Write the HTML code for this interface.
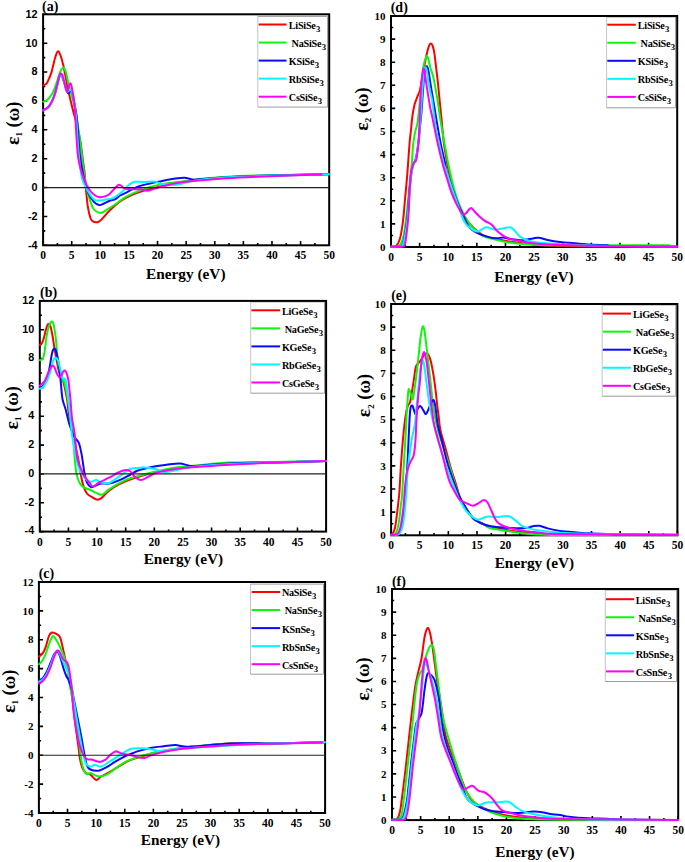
<!DOCTYPE html><html><head><meta charset="utf-8"><title>Dielectric function</title>
<style>html,body{margin:0;padding:0;background:#fff;width:685px;height:862px;overflow:hidden}svg{display:block}text{font-family:'Liberation Serif', serif;font-weight:bold;fill:#000}.s{font-family:'Liberation Sans', sans-serif}</style></head><body>
<svg width="685" height="862" viewBox="0 0 685 862">
<rect width="685" height="862" fill="#fff"/>
<g>
<rect x="257.8" y="16.4" width="69.8" height="90.7" fill="#fff"/>
<path d="M257.8 16.4V107.1" stroke="#c4c4c4" stroke-width="1" fill="none"/>
<path d="M257.8 16.4H327.6V107.1H257.8" stroke="#9c9c9c" stroke-width="1" fill="none"/>
<path d="M43.1 245.3V241.1M57.41 245.3V243.1M71.71 245.3V241.1M86.02 245.3V243.1M100.32 245.3V241.1M114.62 245.3V243.1M128.93 245.3V241.1M143.23 245.3V243.1M157.54 245.3V241.1M171.84 245.3V243.1M186.15 245.3V241.1M200.45 245.3V243.1M214.76 245.3V241.1M229.06 245.3V243.1M243.37 245.3V241.1M257.68 245.3V243.1M271.98 245.3V241.1M286.28 245.3V243.1M300.59 245.3V241.1M314.89 245.3V243.1M329.2 245.3V241.1M43.1 245.3H47.3M43.1 230.86H45.3M43.1 216.43H47.3M43.1 201.99H45.3M43.1 187.55H47.3M43.1 173.11H45.3M43.1 158.68H47.3M43.1 144.24H45.3M43.1 129.8H47.3M43.1 115.36H45.3M43.1 100.93H47.3M43.1 86.49H45.3M43.1 72.05H47.3M43.1 57.61H45.3M43.1 43.18H47.3M43.1 28.74H45.3M43.1 14.3H47.3" stroke="#000" stroke-width="1.6" fill="none"/>
<rect x="43.1" y="14.3" width="286.1" height="231" fill="none" stroke="#000" stroke-width="2"/>
<path d="M43.3 85.4C43.87 85.05 45.75 84.42 46.7 83.3C47.65 82.18 48.23 80.43 49 78.7C49.77 76.97 50.57 75.27 51.3 72.9C52.03 70.53 52.75 67.07 53.4 64.5C54.05 61.93 54.47 59.68 55.2 57.5C55.93 55.32 56.93 51.78 57.8 51.4C58.67 51.02 59.47 52.82 60.4 55.2C61.33 57.58 62.13 60.07 63.4 65.7C64.67 71.33 66.4 81.53 68 89C69.6 96.47 71.75 105.42 73 110.5C74.25 115.58 74.73 116.53 75.5 119.5C76.27 122.47 76.77 124.52 77.6 128.3C78.43 132.08 79.63 136.98 80.5 142.2C81.37 147.42 82.13 154.63 82.8 159.6C83.47 164.57 84.03 167.77 84.5 172C84.97 176.23 85.27 181.17 85.6 185C85.93 188.83 86.1 191.23 86.5 195C86.9 198.77 87.35 203.77 88 207.6C88.65 211.43 89.65 215.77 90.4 218C91.15 220.23 91.65 220.28 92.5 221C93.35 221.72 94.57 222.13 95.5 222.3C96.43 222.47 97.18 222.38 98.1 222C99.02 221.62 100.12 220.77 101 220C101.88 219.23 101.83 219.1 103.4 217.4C104.97 215.7 107.48 212.53 110.4 209.8C113.32 207.07 117.2 203.53 120.9 201C124.6 198.47 128.72 196.35 132.6 194.6C136.48 192.85 139.63 191.87 144.2 190.5C148.77 189.13 154.03 187.73 160 186.4C165.97 185.07 173.33 183.65 180 182.5C186.67 181.35 190 180.42 200 179.5C210 178.58 226.67 177.67 240 177C253.33 176.33 265.17 175.95 280 175.5C294.83 175.05 320.83 174.5 329 174.3" fill="none" stroke="#ff0000" stroke-width="2" stroke-linejoin="round" stroke-linecap="round"/>
<path d="M43.3 101.6C43.87 101.37 45.65 100.92 46.7 100.2C47.75 99.48 48.63 98.47 49.6 97.3C50.57 96.13 51.53 95.05 52.5 93.2C53.47 91.35 54.53 88.52 55.4 86.2C56.27 83.88 56.93 81.62 57.7 79.3C58.47 76.98 59.1 74.28 60 72.3C60.9 70.32 62.15 67.53 63.1 67.4C64.05 67.27 64.78 68.67 65.7 71.5C66.62 74.33 67.63 80.5 68.6 84.4C69.57 88.3 70.43 91.02 71.5 94.9C72.57 98.78 73.98 102.93 75 107.7C76.02 112.47 76.77 118.12 77.6 123.5C78.43 128.88 79.23 134.25 80 140C80.77 145.75 81.5 152.33 82.2 158C82.9 163.67 83.57 169.33 84.2 174C84.83 178.67 85.28 182.42 86 186C86.72 189.58 87.38 191.9 88.5 195.5C89.62 199.1 91.37 204.93 92.7 207.6C94.03 210.27 95.02 210.63 96.5 211.5C97.98 212.37 99.68 213.22 101.6 212.8C103.52 212.38 105.77 210.38 108 209C110.23 207.62 111.88 206.6 115 204.5C118.12 202.4 122.8 198.63 126.7 196.4C130.6 194.17 134.52 192.67 138.4 191.1C142.28 189.53 146.4 188.08 150 187C153.6 185.92 156.8 185.27 160 184.6C163.2 183.93 165.23 183.57 169.2 183C173.17 182.43 178.93 181.87 183.8 181.2C188.67 180.53 189.03 179.87 198.4 179C207.77 178.13 226.4 176.67 240 176C253.6 175.33 266.07 175.25 280 175C293.93 174.75 316.33 174.58 323.6 174.5" fill="none" stroke="#0cf70c" stroke-width="2" stroke-linejoin="round" stroke-linecap="round"/>
<path d="M43.3 110.2C43.87 109.92 45.65 109.27 46.7 108.5C47.75 107.73 48.63 106.95 49.6 105.6C50.57 104.25 51.53 102.62 52.5 100.4C53.47 98.18 54.53 95.2 55.4 92.3C56.27 89.4 57.02 85.68 57.7 83C58.38 80.32 58.98 77.68 59.5 76.2C60.02 74.72 60.15 73.47 60.8 74.1C61.45 74.73 62.53 77.68 63.4 80C64.27 82.32 65.23 85.82 66 88C66.77 90.18 67.23 92.63 68 93.1C68.77 93.57 69.85 90.82 70.6 90.8C71.35 90.78 71.95 91.35 72.5 93C73.05 94.65 73.32 97.53 73.9 100.7C74.48 103.87 75.45 108.45 76 112C76.55 115.55 76.78 117.67 77.2 122C77.62 126.33 78.05 132.5 78.5 138C78.95 143.5 79.08 148.67 79.9 155C80.72 161.33 82.05 169.77 83.4 176C84.75 182.23 86.25 188.1 88 192.4C89.75 196.7 92.02 199.68 93.9 201.8C95.78 203.92 97.62 204.82 99.3 205.1C100.98 205.38 102.35 204.18 104 203.5C105.65 202.82 107.37 201.7 109.2 201C111.03 200.3 113.2 200.22 115 199.3C116.8 198.38 118.05 196.67 120 195.5C121.95 194.33 123.63 193.82 126.7 192.3C129.77 190.78 134.52 187.87 138.4 186.4C142.28 184.93 146.4 184.33 150 183.5C153.6 182.67 156.8 182.08 160 181.4C163.2 180.72 165.23 180 169.2 179.4C173.17 178.8 180.4 177.92 183.8 177.8C187.2 177.68 187.9 178.38 189.6 178.7C191.3 179.02 190.1 179.78 194 179.7C197.9 179.62 205.33 178.73 213 178.2C220.67 177.67 228.83 176.98 240 176.5C251.17 176.02 265.17 175.67 280 175.3C294.83 174.93 320.83 174.47 329 174.3" fill="none" stroke="#0a0aff" stroke-width="2" stroke-linejoin="round" stroke-linecap="round"/>
<path d="M43.3 110.5C43.87 110.22 45.65 109.57 46.7 108.8C47.75 108.03 48.63 107.25 49.6 105.9C50.57 104.55 51.53 102.92 52.5 100.7C53.47 98.48 54.53 95.5 55.4 92.6C56.27 89.7 57.02 85.98 57.7 83.3C58.38 80.62 58.98 77.97 59.5 76.5C60.02 75.03 60.15 73.83 60.8 74.5C61.45 75.17 62.62 78.33 63.4 80.5C64.18 82.67 64.87 85.62 65.5 87.5C66.13 89.38 66.48 91.38 67.2 91.8C67.92 92.22 69 89.97 69.8 90C70.6 90.03 71.3 90.17 72 92C72.7 93.83 73.33 97 74 101C74.67 105 75.33 108.67 76 116C76.67 123.33 77.35 136.67 78 145C78.65 153.33 79.15 160.17 79.9 166C80.65 171.83 81.15 175.8 82.5 180C83.85 184.2 86.1 187.97 88 191.2C89.9 194.43 92.15 197.83 93.9 199.4C95.65 200.97 96.92 200.52 98.5 200.6C100.08 200.68 101.03 200.32 103.4 199.9C105.77 199.48 109.78 199.28 112.7 198.1C115.62 196.92 118.18 195.03 120.9 192.8C123.62 190.57 126.67 186.53 129 184.7C131.33 182.87 132.37 182.25 134.9 181.8C137.43 181.35 140.92 182.03 144.2 182C147.48 181.97 151.65 181.25 154.6 181.6C157.55 181.95 158.25 183.57 161.9 184.1C165.55 184.63 171.65 185.28 176.5 184.8C181.35 184.32 184.92 182.25 191 181.2C197.08 180.15 204.83 179.23 213 178.5C221.17 177.77 228.83 177.3 240 176.8C251.17 176.3 265.17 175.92 280 175.5C294.83 175.08 320.83 174.5 329 174.3" fill="none" stroke="#00f8ff" stroke-width="2" stroke-linejoin="round" stroke-linecap="round"/>
<path d="M43.3 110C43.87 109.72 45.65 109.07 46.7 108.3C47.75 107.53 48.63 106.75 49.6 105.4C50.57 104.05 51.53 102.42 52.5 100.2C53.47 97.98 54.53 95 55.4 92.1C56.27 89.2 57.02 85.52 57.7 82.8C58.38 80.08 58.97 77.35 59.5 75.8C60.03 74.25 60.42 73.6 60.9 73.5C61.38 73.4 61.87 73.85 62.4 75.2C62.93 76.55 63.52 79.27 64.1 81.6C64.68 83.93 65.35 87.57 65.9 89.2C66.45 90.83 66.7 92.37 67.4 91.4C68.1 90.43 69.32 83.8 70.1 83.4C70.88 83 71.37 85.33 72.1 89C72.83 92.67 73.93 100.23 74.5 105.4C75.07 110.57 75.1 113.67 75.5 120C75.9 126.33 76.37 136.58 76.9 143.4C77.43 150.22 77.72 155.45 78.7 160.9C79.68 166.35 81.43 172.02 82.8 176.1C84.17 180.18 85.45 182.68 86.9 185.4C88.35 188.12 89.55 190.47 91.5 192.4C93.45 194.33 95.85 196.53 98.6 197C101.35 197.47 105.45 196.48 108 195.2C110.55 193.92 112.05 191.05 113.9 189.3C115.75 187.55 117.35 184.88 119.1 184.7C120.85 184.52 122.15 187.43 124.4 188.2C126.65 188.97 129.88 189.12 132.6 189.3C135.32 189.48 138.22 189.07 140.7 189.3C143.18 189.53 145.17 190.82 147.5 190.7C149.83 190.58 151.08 189.58 154.7 188.6C158.32 187.62 164.35 185.92 169.2 184.8C174.05 183.68 172 183.12 183.8 181.9C195.6 180.68 223.97 178.52 240 177.5C256.03 176.48 266.45 176.3 280 175.8C293.55 175.3 314.42 174.72 321.3 174.5" fill="none" stroke="#ff00ff" stroke-width="2" stroke-linejoin="round" stroke-linecap="round"/>
<line x1="43.1" y1="187.55" x2="329.2" y2="187.55" stroke="#222" stroke-width="1.15"/>
<line x1="258.7" y1="24.5" x2="286.5" y2="24.5" stroke="#ff0000" stroke-width="2"/>
<text x="288.8" y="28.9" font-size="10.2" letter-spacing="-0.25">LiSiSe<tspan font-size="8.7" dx="0.5" dy="3">3</tspan></text>
<line x1="258.7" y1="42.55" x2="286.5" y2="42.55" stroke="#0cf70c" stroke-width="2"/>
<text x="291.6" y="46.95" font-size="10.2" letter-spacing="-0.25">NaSiSe<tspan font-size="8.7" dx="0.5" dy="3">3</tspan></text>
<line x1="258.7" y1="60.6" x2="286.5" y2="60.6" stroke="#0a0aff" stroke-width="2"/>
<text x="288.8" y="65" font-size="10.2" letter-spacing="-0.25">KSiSe<tspan font-size="8.7" dx="0.5" dy="3">3</tspan></text>
<line x1="258.7" y1="78.65" x2="286.5" y2="78.65" stroke="#00f8ff" stroke-width="2"/>
<text x="288.8" y="83.05" font-size="10.2" letter-spacing="-0.25">RbSiSe<tspan font-size="8.7" dx="0.5" dy="3">3</tspan></text>
<line x1="258.7" y1="96.7" x2="286.5" y2="96.7" stroke="#ff00ff" stroke-width="2"/>
<text x="288.8" y="101.1" font-size="10.2" letter-spacing="-0.25">CsSiSe<tspan font-size="8.7" dx="0.5" dy="3">3</tspan></text>
<text x="43.1" y="259.2" font-size="11.5" text-anchor="middle">0</text>
<text x="71.71" y="259.2" font-size="11.5" text-anchor="middle">5</text>
<text x="100.32" y="259.2" font-size="11.5" text-anchor="middle">10</text>
<text x="128.93" y="259.2" font-size="11.5" text-anchor="middle">15</text>
<text x="157.54" y="259.2" font-size="11.5" text-anchor="middle">20</text>
<text x="186.15" y="259.2" font-size="11.5" text-anchor="middle">25</text>
<text x="214.76" y="259.2" font-size="11.5" text-anchor="middle">30</text>
<text x="243.37" y="259.2" font-size="11.5" text-anchor="middle">35</text>
<text x="271.98" y="259.2" font-size="11.5" text-anchor="middle">40</text>
<text x="300.59" y="259.2" font-size="11.5" text-anchor="middle">45</text>
<text x="329.2" y="259.2" font-size="11.5" text-anchor="middle">50</text>
<text class="s" x="37.5" y="248.7" font-size="10.8" text-anchor="end">-4</text>
<text class="s" x="37.5" y="219.83" font-size="10.8" text-anchor="end">-2</text>
<text class="s" x="37.5" y="190.95" font-size="10.8" text-anchor="end">0</text>
<text class="s" x="37.5" y="162.08" font-size="10.8" text-anchor="end">2</text>
<text class="s" x="37.5" y="133.2" font-size="10.8" text-anchor="end">4</text>
<text class="s" x="37.5" y="104.33" font-size="10.8" text-anchor="end">6</text>
<text class="s" x="37.5" y="75.45" font-size="10.8" text-anchor="end">8</text>
<text class="s" x="37.5" y="46.58" font-size="10.8" text-anchor="end">10</text>
<text class="s" x="37.5" y="17.7" font-size="10.8" text-anchor="end">12</text>
<text x="185.8" y="279" font-size="15.3" text-anchor="middle">Energy (eV)</text>
<text transform="translate(19.2 144.9) rotate(-90)" font-size="18.5"><tspan font-size="19.5">&#949;</tspan><tspan font-size="9" dy="3.2">1</tspan><tspan dy="-3.2"> (&#969;)</tspan></text>
<text x="42" y="10.6" font-size="14">(a)</text>
</g>
<g>
<rect x="250.7" y="301.9" width="73.8" height="91.3" fill="#fff"/>
<path d="M250.7 301.9V393.2" stroke="#c4c4c4" stroke-width="1" fill="none"/>
<path d="M250.7 301.9H324.5V393.2H250.7" stroke="#9c9c9c" stroke-width="1" fill="none"/>
<path d="M39.8 531.6V527.4M54.11 531.6V529.4M68.43 531.6V527.4M82.75 531.6V529.4M97.06 531.6V527.4M111.38 531.6V529.4M125.69 531.6V527.4M140 531.6V529.4M154.32 531.6V527.4M168.63 531.6V529.4M182.95 531.6V527.4M197.26 531.6V529.4M211.58 531.6V527.4M225.89 531.6V529.4M240.21 531.6V527.4M254.52 531.6V529.4M268.84 531.6V527.4M283.15 531.6V529.4M297.47 531.6V527.4M311.79 531.6V529.4M326.1 531.6V527.4M39.8 531.6H44M39.8 517.18H42M39.8 502.76H44M39.8 488.34H42M39.8 473.93H44M39.8 459.51H42M39.8 445.09H44M39.8 430.67H42M39.8 416.25H44M39.8 401.83H42M39.8 387.41H44M39.8 372.99H42M39.8 358.57H44M39.8 344.16H42M39.8 329.74H44M39.8 315.32H42M39.8 300.9H44" stroke="#000" stroke-width="1.6" fill="none"/>
<rect x="39.8" y="300.9" width="286.3" height="230.7" fill="none" stroke="#000" stroke-width="2"/>
<path d="M40 345C40.37 344.62 41.53 343.95 42.2 342.7C42.87 341.45 43.38 339.68 44 337.5C44.62 335.32 45.27 331.75 45.9 329.6C46.53 327.45 47.28 325.5 47.8 324.6C48.32 323.7 48.6 323.97 49 324.2C49.4 324.43 49.87 325.32 50.2 326C50.53 326.68 50.55 326.3 51 328.3C51.45 330.3 52.35 334.83 52.9 338C53.45 341.17 53.77 344.07 54.3 347.3C54.83 350.53 55.33 353.4 56.1 357.4C56.87 361.4 57.97 367.58 58.9 371.3C59.83 375.02 60.9 377.73 61.7 379.7C62.5 381.67 63.02 380.9 63.7 383.1C64.38 385.3 65.22 390.08 65.8 392.9C66.38 395.72 66.78 397.15 67.2 400C67.62 402.85 67.88 406.83 68.3 410C68.72 413.17 69.13 416.27 69.7 419C70.27 421.73 70.78 422.07 71.7 426.4C72.62 430.73 74.03 439.17 75.2 445C76.37 450.83 77.73 456.33 78.7 461.4C79.67 466.47 80.22 471.32 81 475.4C81.78 479.48 82.42 482.88 83.4 485.9C84.38 488.92 85.35 491.55 86.9 493.5C88.45 495.45 90.95 496.57 92.7 497.6C94.45 498.63 95.85 499.7 97.4 499.7C98.95 499.7 100.07 499.12 102 497.6C103.93 496.08 106.27 492.75 109 490.6C111.73 488.45 114.88 486.55 118.4 484.7C121.92 482.85 125.73 481.12 130.1 479.5C134.47 477.88 139.75 476.35 144.6 475C149.45 473.65 150.8 472.82 159.2 471.4C167.6 469.98 183.2 467.83 195 466.5C206.8 465.17 217.25 464.07 230 463.4C242.75 462.73 255.52 462.9 271.5 462.5C287.48 462.1 316.83 461.25 325.9 461" fill="none" stroke="#ff0000" stroke-width="2" stroke-linejoin="round" stroke-linecap="round"/>
<path d="M40 360.2C40.48 359.9 42.15 359.77 42.9 358.4C43.65 357.03 43.85 355.87 44.5 352C45.15 348.13 46.03 339.55 46.8 335.2C47.57 330.85 48.32 328.18 49.1 325.9C49.88 323.62 50.8 321.88 51.5 321.5C52.2 321.12 52.77 322.08 53.3 323.6C53.83 325.12 54.23 327.73 54.7 330.6C55.17 333.47 55.72 337.23 56.1 340.8C56.48 344.37 56.63 348.3 57 352C57.37 355.7 57.83 359.67 58.3 363C58.77 366.33 59.23 369 59.8 372C60.37 375 61.05 379.6 61.7 381C62.35 382.4 62.88 378.5 63.7 380.4C64.52 382.3 65.63 387.47 66.6 392.4C67.57 397.33 68.47 403.17 69.5 410C70.53 416.83 71.95 425.62 72.8 433.4C73.65 441.18 74 450.08 74.6 456.7C75.2 463.32 75.62 468.82 76.4 473.1C77.18 477.38 78.13 480.07 79.3 482.4C80.47 484.73 81.55 485.83 83.4 487.1C85.25 488.37 88.27 489.03 90.4 490C92.53 490.97 94.27 492.12 96.2 492.9C98.13 493.68 99.87 495.28 102 494.7C104.13 494.12 106.27 491.25 109 489.4C111.73 487.55 114.88 485.45 118.4 483.6C121.92 481.75 125.73 479.85 130.1 478.3C134.47 476.75 139.75 475.57 144.6 474.3C149.45 473.03 154.33 471.8 159.2 470.7C164.07 469.6 167.72 468.57 173.8 467.7C179.88 466.83 186.33 466.35 195.7 465.5C205.07 464.65 217.37 463.18 230 462.6C242.63 462.02 255.52 462.27 271.5 462C287.48 461.73 316.83 461.17 325.9 461" fill="none" stroke="#0cf70c" stroke-width="2" stroke-linejoin="round" stroke-linecap="round"/>
<path d="M40 387.3C40.37 387.17 41.45 387.05 42.2 386.5C42.95 385.95 43.73 385.25 44.5 384C45.27 382.75 46.13 380.83 46.8 379C47.47 377.17 48 375.1 48.5 373C49 370.9 49.38 368.73 49.8 366.4C50.22 364.07 50.65 361.08 51 359C51.35 356.92 51.57 355.4 51.9 353.9C52.23 352.4 52.58 350.92 53 350C53.42 349.08 53.98 348.48 54.4 348.4C54.82 348.32 55.17 348.82 55.5 349.5C55.83 350.18 55.95 350.6 56.4 352.5C56.85 354.4 57.67 357.77 58.2 360.9C58.73 364.03 59.13 367.37 59.6 371.3C60.07 375.23 60.52 379.88 61 384.5C61.48 389.12 61.7 394.75 62.5 399C63.3 403.25 64.67 405.83 65.8 410C66.93 414.17 67.93 419.62 69.3 424C70.67 428.38 72.43 433.18 74 436.3C75.57 439.42 77.43 439.68 78.7 442.7C79.97 445.72 80.63 449.33 81.6 454.4C82.57 459.47 83.62 468.43 84.5 473.1C85.38 477.77 85.83 480.07 86.9 482.4C87.97 484.73 89.55 486.52 90.9 487.1C92.25 487.68 93.33 486.48 95 485.9C96.67 485.32 98.57 483.98 100.9 483.6C103.23 483.22 106.08 484.08 109 483.6C111.92 483.12 114.88 482.17 118.4 480.7C121.92 479.23 126.95 476.47 130.1 474.8C133.25 473.13 133.67 472 137.3 470.7C140.93 469.4 147.03 467.98 151.9 467C156.77 466.02 161.88 465.4 166.5 464.8C171.12 464.2 175.95 463.28 179.6 463.4C183.25 463.52 185.72 465.07 188.4 465.5C191.08 465.93 188.77 466.35 195.7 466C202.63 465.65 217.37 463.98 230 463.4C242.63 462.82 255.52 462.9 271.5 462.5C287.48 462.1 316.83 461.25 325.9 461" fill="none" stroke="#0a0aff" stroke-width="2" stroke-linejoin="round" stroke-linecap="round"/>
<path d="M40 388.7C40.48 388.47 41.83 388.45 42.9 387.3C43.97 386.15 45.25 384.12 46.4 381.8C47.55 379.48 48.95 375.87 49.8 373.4C50.65 370.93 51.03 368.73 51.5 367C51.97 365.27 52.18 364.33 52.6 363C53.02 361.67 53.53 359.88 54 359C54.47 358.12 54.93 357.78 55.4 357.7C55.87 357.62 56.33 357.97 56.8 358.5C57.27 359.03 57.62 359.12 58.2 360.9C58.78 362.68 59.6 366.42 60.3 369.2C61 371.98 61.78 375.97 62.4 377.6C63.02 379.23 63.47 378.6 64 379C64.53 379.4 64.97 377.38 65.6 380C66.23 382.62 67.03 388.7 67.8 394.7C68.57 400.7 69.5 409.28 70.2 416C70.9 422.72 70.97 427.83 72 435C73.03 442.17 75.08 453.05 76.4 459C77.72 464.95 78.55 467.58 79.9 470.7C81.25 473.82 82.75 475.85 84.5 477.7C86.25 479.55 88.45 481.4 90.4 481.8C92.35 482.2 94.45 480 96.2 480.1C97.95 480.2 98.77 481.92 100.9 482.4C103.03 482.88 105.7 484.17 109 483C112.3 481.83 117.18 477.73 120.7 475.4C124.22 473.07 126.88 470.27 130.1 469C133.32 467.73 137.58 468.07 140 467.8C142.42 467.53 141.88 467.17 144.6 467.4C147.32 467.63 153.13 468.42 156.3 469.2C159.47 469.98 160.68 471.85 163.6 472.1C166.52 472.35 169.18 471.55 173.8 470.7C178.42 469.85 181.93 468.1 191.3 467C200.67 465.9 216.63 464.85 230 464.1C243.37 463.35 255.52 463.02 271.5 462.5C287.48 461.98 316.83 461.25 325.9 461" fill="none" stroke="#00f8ff" stroke-width="2" stroke-linejoin="round" stroke-linecap="round"/>
<path d="M40 385.6C40.37 385.3 41.37 384.67 42.2 383.8C43.03 382.93 44.08 382.02 45 380.4C45.92 378.78 46.83 376.08 47.7 374.1C48.57 372.12 49.57 369.82 50.2 368.5C50.83 367.18 51.1 366.67 51.5 366.2C51.9 365.73 52.23 365.68 52.6 365.7C52.97 365.72 53.35 365.95 53.7 366.3C54.05 366.65 54.18 366.62 54.7 367.8C55.22 368.98 56.05 371.83 56.8 373.4C57.55 374.97 58.58 376.68 59.2 377.2C59.82 377.72 60.08 376.9 60.5 376.5C60.92 376.1 61.23 375.63 61.7 374.8C62.17 373.97 62.78 372.2 63.3 371.5C63.82 370.8 64.35 370.52 64.8 370.6C65.25 370.68 65.6 371.27 66 372C66.4 372.73 66.78 373.5 67.2 375C67.62 376.5 68.12 378.48 68.5 381C68.88 383.52 69.13 386.6 69.5 390.1C69.87 393.6 70.28 397.35 70.7 402C71.12 406.65 71.35 412.77 72 418C72.65 423.23 73.68 426.57 74.6 433.4C75.52 440.23 76.03 452.2 77.5 459C78.97 465.8 81.45 470.3 83.4 474.2C85.35 478.1 87.65 480.35 89.2 482.4C90.75 484.45 91.15 486.4 92.7 486.5C94.25 486.6 95.78 484.47 98.5 483C101.22 481.53 105.68 479.45 109 477.7C112.32 475.95 115.67 473.77 118.4 472.5C121.13 471.23 123.45 470.3 125.4 470.1C127.35 469.9 128.55 470.22 130.1 471.3C131.65 472.38 132.88 475.13 134.7 476.6C136.52 478.07 138.87 480 141 480.1C143.13 480.2 144.95 478.42 147.5 477.2C150.05 475.98 151.92 474.13 156.3 472.8C160.68 471.47 167.23 470.17 173.8 469.2C180.37 468.23 186.33 467.73 195.7 467C205.07 466.27 217.37 465.5 230 464.8C242.63 464.1 255.52 463.43 271.5 462.8C287.48 462.17 316.83 461.3 325.9 461" fill="none" stroke="#ff00ff" stroke-width="2" stroke-linejoin="round" stroke-linecap="round"/>
<line x1="39.8" y1="473.93" x2="326.1" y2="473.93" stroke="#222" stroke-width="1.15"/>
<line x1="251.4" y1="310.3" x2="280.1" y2="310.3" stroke="#ff0000" stroke-width="2"/>
<text x="281.9" y="314.7" font-size="10.2" letter-spacing="-0.25">LiGeSe<tspan font-size="8.7" dx="0.5" dy="3">3</tspan></text>
<line x1="251.4" y1="328.35" x2="280.1" y2="328.35" stroke="#0cf70c" stroke-width="2"/>
<text x="284.7" y="332.75" font-size="10.2" letter-spacing="-0.25">NaGeSe<tspan font-size="8.7" dx="0.5" dy="3">3</tspan></text>
<line x1="251.4" y1="346.4" x2="280.1" y2="346.4" stroke="#0a0aff" stroke-width="2"/>
<text x="281.9" y="350.8" font-size="10.2" letter-spacing="-0.25">KGeSe<tspan font-size="8.7" dx="0.5" dy="3">3</tspan></text>
<line x1="251.4" y1="364.45" x2="280.1" y2="364.45" stroke="#00f8ff" stroke-width="2"/>
<text x="281.9" y="368.85" font-size="10.2" letter-spacing="-0.25">RbGeSe<tspan font-size="8.7" dx="0.5" dy="3">3</tspan></text>
<line x1="251.4" y1="382.5" x2="280.1" y2="382.5" stroke="#ff00ff" stroke-width="2"/>
<text x="281.9" y="386.9" font-size="10.2" letter-spacing="-0.25">CsGeSe<tspan font-size="8.7" dx="0.5" dy="3">3</tspan></text>
<text x="39.8" y="545.5" font-size="11.5" text-anchor="middle">0</text>
<text x="68.43" y="545.5" font-size="11.5" text-anchor="middle">5</text>
<text x="97.06" y="545.5" font-size="11.5" text-anchor="middle">10</text>
<text x="125.69" y="545.5" font-size="11.5" text-anchor="middle">15</text>
<text x="154.32" y="545.5" font-size="11.5" text-anchor="middle">20</text>
<text x="182.95" y="545.5" font-size="11.5" text-anchor="middle">25</text>
<text x="211.58" y="545.5" font-size="11.5" text-anchor="middle">30</text>
<text x="240.21" y="545.5" font-size="11.5" text-anchor="middle">35</text>
<text x="268.84" y="545.5" font-size="11.5" text-anchor="middle">40</text>
<text x="297.47" y="545.5" font-size="11.5" text-anchor="middle">45</text>
<text x="326.1" y="545.5" font-size="11.5" text-anchor="middle">50</text>
<text class="s" x="34.2" y="534.4" font-size="10.8" text-anchor="end">-4</text>
<text class="s" x="34.2" y="505.56" font-size="10.8" text-anchor="end">-2</text>
<text class="s" x="34.2" y="476.73" font-size="10.8" text-anchor="end">0</text>
<text class="s" x="34.2" y="447.89" font-size="10.8" text-anchor="end">2</text>
<text class="s" x="34.2" y="419.05" font-size="10.8" text-anchor="end">4</text>
<text class="s" x="34.2" y="390.21" font-size="10.8" text-anchor="end">6</text>
<text class="s" x="34.2" y="361.38" font-size="10.8" text-anchor="end">8</text>
<text class="s" x="34.2" y="332.54" font-size="10.8" text-anchor="end">10</text>
<text class="s" x="34.2" y="303.7" font-size="10.8" text-anchor="end">12</text>
<text x="183.4" y="564.4" font-size="15.3" text-anchor="middle">Energy (eV)</text>
<text transform="translate(18 429.4) rotate(-90)" font-size="18.5"><tspan font-size="19.5">&#949;</tspan><tspan font-size="9" dy="3.2">1</tspan><tspan dy="-3.2"> (&#969;)</tspan></text>
<text x="40.1" y="297" font-size="14">(b)</text>
</g>
<g>
<rect x="250.5" y="584.1" width="73" height="90.1" fill="#fff"/>
<path d="M250.5 584.1V674.2" stroke="#c4c4c4" stroke-width="1" fill="none"/>
<path d="M250.5 584.1H323.5V674.2H250.5" stroke="#9c9c9c" stroke-width="1" fill="none"/>
<path d="M38.9 813V808.8M53.21 813V810.8M67.52 813V808.8M81.83 813V810.8M96.14 813V808.8M110.45 813V810.8M124.76 813V808.8M139.07 813V810.8M153.38 813V808.8M167.69 813V810.8M182 813V808.8M196.31 813V810.8M210.62 813V808.8M224.93 813V810.8M239.24 813V808.8M253.55 813V810.8M267.86 813V808.8M282.17 813V810.8M296.48 813V808.8M310.79 813V810.8M325.1 813V808.8M38.9 813H43.1M38.9 798.56H41.1M38.9 784.12H43.1M38.9 769.69H41.1M38.9 755.25H43.1M38.9 740.81H41.1M38.9 726.38H43.1M38.9 711.94H41.1M38.9 697.5H43.1M38.9 683.06H41.1M38.9 668.62H43.1M38.9 654.19H41.1M38.9 639.75H43.1M38.9 625.31H41.1M38.9 610.88H43.1M38.9 596.44H41.1M38.9 582H43.1" stroke="#000" stroke-width="1.6" fill="none"/>
<rect x="38.9" y="582" width="286.2" height="231" fill="none" stroke="#000" stroke-width="2"/>
<path d="M39.1 656.7C39.75 656.07 41.85 654.67 43 652.9C44.15 651.13 44.98 648.98 46 646.1C47.02 643.22 48.08 637.87 49.1 635.6C50.12 633.33 51.1 632.88 52.1 632.5C53.1 632.12 54.03 632.85 55.1 633.3C56.17 633.75 57.62 634.38 58.5 635.2C59.38 636.02 59.83 636.75 60.4 638.2C60.97 639.65 61.4 641.83 61.9 643.9C62.4 645.97 62.9 648.35 63.4 650.6C63.9 652.85 64.4 655.13 64.9 657.4C65.4 659.67 65.95 662.1 66.4 664.2C66.85 666.3 67.05 667.25 67.6 670C68.15 672.75 68.97 676.53 69.7 680.7C70.43 684.87 71.08 687.88 72 695C72.92 702.12 74.18 715.17 75.2 723.4C76.22 731.63 77.32 738.57 78.1 744.4C78.88 750.23 79.22 754.52 79.9 758.4C80.58 762.28 81.23 765.27 82.2 767.7C83.17 770.13 84.33 771.83 85.7 773C87.07 774.17 88.65 773.53 90.4 774.7C92.15 775.87 94.55 779.6 96.2 780C97.85 780.4 98.55 778.17 100.3 777.1C102.05 776.03 103.68 775.35 106.7 773.6C109.72 771.85 114.5 768.83 118.4 766.6C122.3 764.37 125.73 762.05 130.1 760.2C134.47 758.35 139.75 756.9 144.6 755.5C149.45 754.1 151.9 753.13 159.2 751.8C166.5 750.47 176.6 748.87 188.4 747.5C200.2 746.13 216.4 744.28 230 743.6C243.6 742.92 254.18 743.62 270 743.4C285.82 743.18 315.75 742.48 324.9 742.3" fill="none" stroke="#ff0000" stroke-width="2" stroke-linejoin="round" stroke-linecap="round"/>
<path d="M39.1 664.2C39.75 663.45 41.85 661.58 43 659.7C44.15 657.82 44.98 655.53 46 652.9C47.02 650.27 48.08 646.53 49.1 643.9C50.12 641.27 51.35 638.37 52.1 637.1C52.85 635.83 52.98 635.93 53.6 636.3C54.22 636.67 54.92 637.92 55.8 639.3C56.68 640.68 57.88 642.58 58.9 644.6C59.92 646.62 60.9 649.02 61.9 651.4C62.9 653.78 64.05 656.27 64.9 658.9C65.75 661.53 66.4 664.02 67 667.2C67.6 670.38 67.85 674 68.5 678C69.15 682 70.18 687.2 70.9 691.2C71.62 695.2 71.88 696.63 72.8 702C73.72 707.37 75.32 716.33 76.4 723.4C77.48 730.47 78.43 737.98 79.3 744.4C80.17 750.82 80.73 757.33 81.6 761.9C82.47 766.47 83.53 769.75 84.5 771.8C85.47 773.85 86.42 774 87.4 774.2C88.38 774.4 89.13 772.82 90.4 773C91.67 773.18 93.45 774.72 95 775.3C96.55 775.88 97.75 776.6 99.7 776.5C101.65 776.4 104.17 775.97 106.7 774.7C109.23 773.43 111.78 771.03 114.9 768.9C118.02 766.77 121.22 764.03 125.4 761.9C129.58 759.77 136.8 757.25 140 756.1C143.2 754.95 141.4 755.78 144.6 755C147.8 754.22 151.9 752.73 159.2 751.4C166.5 750.07 176.6 748.33 188.4 747C200.2 745.67 216.4 744 230 743.4C243.6 742.8 254.18 743.58 270 743.4C285.82 743.22 315.75 742.48 324.9 742.3" fill="none" stroke="#0cf70c" stroke-width="2" stroke-linejoin="round" stroke-linecap="round"/>
<path d="M39.1 680.4C39.75 679.97 41.72 679.23 43 677.8C44.28 676.37 45.53 674.32 46.8 671.8C48.07 669.28 49.47 665.47 50.6 662.7C51.73 659.93 52.73 656.97 53.6 655.2C54.47 653.43 55.18 652.73 55.8 652.1C56.42 651.47 56.67 650.88 57.3 651.4C57.93 651.92 58.83 653.32 59.6 655.2C60.37 657.08 61.15 660.18 61.9 662.7C62.65 665.22 63.33 668 64.1 670.3C64.87 672.6 65.77 674.92 66.5 676.5C67.23 678.08 67.58 677.53 68.5 679.8C69.42 682.07 71.08 686.73 72 690.1C72.92 693.47 73.08 695.43 74 700C74.92 704.57 76.33 711.67 77.5 717.5C78.67 723.33 79.93 729.35 81 735C82.07 740.65 82.92 746.33 83.9 751.4C84.88 756.47 85.82 762.38 86.9 765.4C87.98 768.42 88.47 768.62 90.4 769.5C92.33 770.38 95.78 771.08 98.5 770.7C101.22 770.32 103.97 768.67 106.7 767.2C109.43 765.73 111.78 763.75 114.9 761.9C118.02 760.05 122.88 757.37 125.4 756.1C127.92 754.83 128.02 755.08 130 754.3C131.98 753.52 133.65 752.5 137.3 751.4C140.95 750.3 147.52 748.55 151.9 747.7C156.28 746.85 159.7 746.73 163.6 746.3C167.5 745.87 172.13 745.1 175.3 745.1C178.47 745.1 179.68 746.05 182.6 746.3C185.52 746.55 184.9 747.08 192.8 746.6C200.7 746.12 217.13 743.93 230 743.4C242.87 742.87 254.18 743.58 270 743.4C285.82 743.22 315.75 742.48 324.9 742.3" fill="none" stroke="#0a0aff" stroke-width="2" stroke-linejoin="round" stroke-linecap="round"/>
<path d="M39.1 681.9C39.75 681.47 41.72 680.68 43 679.3C44.28 677.92 45.53 675.98 46.8 673.6C48.07 671.22 49.47 667.82 50.6 665C51.73 662.18 52.67 658.93 53.6 656.7C54.53 654.47 55.5 652.55 56.2 651.6C56.9 650.65 57.17 650.52 57.8 651C58.43 651.48 59.32 653.18 60 654.5C60.68 655.82 61.08 657.03 61.9 658.9C62.72 660.77 64.05 663.82 64.9 665.7C65.75 667.58 66.23 668.48 67 670.2C67.77 671.92 68.67 673.03 69.5 676C70.33 678.97 71.32 684 72 688C72.68 692 72.68 694.1 73.6 700C74.52 705.9 76.07 715.23 77.5 723.4C78.93 731.57 80.83 742.38 82.2 749C83.57 755.62 84.33 760.17 85.7 763.1C87.07 766.03 88.85 766.32 90.4 766.6C91.95 766.88 93.25 764.8 95 764.8C96.75 764.8 98.57 767.08 100.9 766.6C103.23 766.12 106.08 763.65 109 761.9C111.92 760.15 115.47 757.95 118.4 756.1C121.33 754.25 124.27 752.07 126.6 750.8C128.93 749.53 130.17 748.92 132.4 748.5C134.63 748.08 137.97 748.3 140 748.3C142.03 748.3 142.13 748.23 144.6 748.5C147.07 748.77 152.37 749.45 154.8 749.9C157.23 750.35 156.03 751.32 159.2 751.2C162.37 751.08 162 750.15 173.8 749.2C185.6 748.25 213.97 746.43 230 745.5C246.03 744.57 254.18 744.13 270 743.6C285.82 743.07 315.75 742.52 324.9 742.3" fill="none" stroke="#00f8ff" stroke-width="2" stroke-linejoin="round" stroke-linecap="round"/>
<path d="M39.1 683.4C39.75 682.97 41.72 682.12 43 680.8C44.28 679.48 45.53 677.77 46.8 675.5C48.07 673.23 49.47 670.08 50.6 667.2C51.73 664.32 52.6 660.83 53.6 658.2C54.6 655.57 55.78 652.67 56.6 651.4C57.42 650.13 57.87 650.22 58.5 650.6C59.13 650.98 59.72 652.43 60.4 653.7C61.08 654.97 61.85 657.02 62.6 658.2C63.35 659.38 64.17 660.13 64.9 660.8C65.63 661.47 66.4 661.33 67 662.2C67.6 663.07 68.05 664.27 68.5 666C68.95 667.73 69.12 668.6 69.7 672.6C70.28 676.6 71.42 684.1 72 690C72.58 695.9 72.67 702.43 73.2 708C73.73 713.57 74.28 717.73 75.2 723.4C76.12 729.07 77.33 736.75 78.7 742C80.07 747.25 82.03 752.07 83.4 754.9C84.77 757.73 85.55 758.22 86.9 759C88.25 759.78 89.37 759.12 91.5 759.6C93.63 760.08 97.37 761.9 99.7 761.9C102.03 761.9 103.75 760.77 105.5 759.6C107.25 758.43 108.53 756.27 110.2 754.9C111.87 753.53 113.75 751.7 115.5 751.4C117.25 751.1 119.05 752.62 120.7 753.1C122.35 753.58 123.45 753.9 125.4 754.3C127.35 754.7 130.42 755.02 132.4 755.5C134.38 755.98 135.27 756.78 137.3 757.2C139.33 757.62 142.17 758.37 144.6 758C147.03 757.63 147.03 756.35 151.9 755C156.77 753.65 160.78 751.55 173.8 749.9C186.82 748.25 213.97 746.12 230 745.1C246.03 744.08 254.68 744.25 270 743.8C285.32 743.35 313.25 742.63 321.9 742.4" fill="none" stroke="#ff00ff" stroke-width="2" stroke-linejoin="round" stroke-linecap="round"/>
<line x1="38.9" y1="755.25" x2="325.1" y2="755.25" stroke="#222" stroke-width="1.15"/>
<line x1="251.6" y1="592" x2="280.1" y2="592" stroke="#ff0000" stroke-width="2"/>
<text x="281.9" y="596.4" font-size="10.2" letter-spacing="-0.25">NaSiSe<tspan font-size="8.7" dx="0.5" dy="3">3</tspan></text>
<line x1="251.6" y1="610.05" x2="280.1" y2="610.05" stroke="#0cf70c" stroke-width="2"/>
<text x="284.7" y="614.45" font-size="10.2" letter-spacing="-0.25">NaSnSe<tspan font-size="8.7" dx="0.5" dy="3">3</tspan></text>
<line x1="251.6" y1="628.1" x2="280.1" y2="628.1" stroke="#0a0aff" stroke-width="2"/>
<text x="281.9" y="632.5" font-size="10.2" letter-spacing="-0.25">KSnSe<tspan font-size="8.7" dx="0.5" dy="3">3</tspan></text>
<line x1="251.6" y1="646.15" x2="280.1" y2="646.15" stroke="#00f8ff" stroke-width="2"/>
<text x="281.9" y="650.55" font-size="10.2" letter-spacing="-0.25">RbSnSe<tspan font-size="8.7" dx="0.5" dy="3">3</tspan></text>
<line x1="251.6" y1="664.2" x2="280.1" y2="664.2" stroke="#ff00ff" stroke-width="2"/>
<text x="281.9" y="668.6" font-size="10.2" letter-spacing="-0.25">CsSnSe<tspan font-size="8.7" dx="0.5" dy="3">3</tspan></text>
<text x="38.9" y="826.9" font-size="11.5" text-anchor="middle">0</text>
<text x="67.52" y="826.9" font-size="11.5" text-anchor="middle">5</text>
<text x="96.14" y="826.9" font-size="11.5" text-anchor="middle">10</text>
<text x="124.76" y="826.9" font-size="11.5" text-anchor="middle">15</text>
<text x="153.38" y="826.9" font-size="11.5" text-anchor="middle">20</text>
<text x="182" y="826.9" font-size="11.5" text-anchor="middle">25</text>
<text x="210.62" y="826.9" font-size="11.5" text-anchor="middle">30</text>
<text x="239.24" y="826.9" font-size="11.5" text-anchor="middle">35</text>
<text x="267.86" y="826.9" font-size="11.5" text-anchor="middle">40</text>
<text x="296.48" y="826.9" font-size="11.5" text-anchor="middle">45</text>
<text x="325.1" y="826.9" font-size="11.5" text-anchor="middle">50</text>
<text x="33.5" y="816.7" font-size="11" text-anchor="end">-4</text>
<text x="33.5" y="787.83" font-size="11" text-anchor="end">-2</text>
<text x="33.5" y="758.95" font-size="11" text-anchor="end">0</text>
<text x="33.5" y="730.08" font-size="11" text-anchor="end">2</text>
<text x="33.5" y="701.2" font-size="11" text-anchor="end">4</text>
<text x="33.5" y="672.33" font-size="11" text-anchor="end">6</text>
<text x="33.5" y="643.45" font-size="11" text-anchor="end">8</text>
<text x="33.5" y="614.58" font-size="11" text-anchor="end">10</text>
<text x="33.5" y="585.7" font-size="11" text-anchor="end">12</text>
<text x="180.5" y="845.2" font-size="15.3" text-anchor="middle">Energy (eV)</text>
<text transform="translate(14.6 712.9) rotate(-90)" font-size="18.5"><tspan font-size="19.5">&#949;</tspan><tspan font-size="9" dy="3.2">1</tspan><tspan dy="-3.2"> (&#969;)</tspan></text>
<text x="38.7" y="577.8" font-size="14">(c)</text>
</g>
<g>
<rect x="606.6" y="17" width="69" height="90.8" fill="#fff"/>
<path d="M606.6 17V107.8" stroke="#c4c4c4" stroke-width="1" fill="none"/>
<path d="M606.6 17H675.6V107.8H606.6" stroke="#9c9c9c" stroke-width="1" fill="none"/>
<path d="M391 247V242.8M405.31 247V244.8M419.62 247V242.8M433.93 247V244.8M448.24 247V242.8M462.55 247V244.8M476.86 247V242.8M491.17 247V244.8M505.48 247V242.8M519.79 247V244.8M534.1 247V242.8M548.41 247V244.8M562.72 247V242.8M577.03 247V244.8M591.34 247V242.8M605.65 247V244.8M619.96 247V242.8M634.27 247V244.8M648.58 247V242.8M662.89 247V244.8M677.2 247V242.8M391 247H395.2M391 235.45H393.2M391 223.9H395.2M391 212.35H393.2M391 200.8H395.2M391 189.25H393.2M391 177.7H395.2M391 166.15H393.2M391 154.6H395.2M391 143.05H393.2M391 131.5H395.2M391 119.95H393.2M391 108.4H395.2M391 96.85H393.2M391 85.3H395.2M391 73.75H393.2M391 62.2H395.2M391 50.65H393.2M391 39.1H395.2M391 27.55H393.2M391 16H395.2" stroke="#000" stroke-width="1.6" fill="none"/>
<rect x="391" y="16" width="286.2" height="231" fill="none" stroke="#000" stroke-width="2"/>
<path d="M391.2 246.8C392 246.67 394.57 247.27 396 246C397.43 244.73 398.67 243.1 399.8 239.2C400.93 235.3 401.92 229.38 402.8 222.6C403.68 215.82 404.33 206.8 405.1 198.5C405.87 190.2 406.65 182.12 407.4 172.8C408.15 163.48 409 149.73 409.6 142.6C410.2 135.47 410.57 134.17 411 130C411.43 125.83 411.62 121.82 412.2 117.6C412.78 113.38 413.63 108.2 414.5 104.7C415.37 101.2 416.52 98.93 417.4 96.6C418.28 94.27 419.12 93.23 419.8 90.7C420.48 88.17 420.82 85.1 421.5 81.4C422.18 77.7 423.02 73.1 423.9 68.5C424.78 63.9 425.9 57.68 426.8 53.8C427.7 49.92 428.57 46.88 429.3 45.2C430.03 43.52 430.62 43.5 431.2 43.7C431.78 43.9 432.27 44.78 432.8 46.4C433.33 48.02 433.85 49.9 434.4 53.4C434.95 56.9 435.52 62.53 436.1 67.4C436.68 72.27 437.32 77.17 437.9 82.6C438.48 88.03 439.02 94.17 439.6 100C440.18 105.83 440.7 110.5 441.4 117.6C442.1 124.7 442.77 134.65 443.8 142.6C444.83 150.55 446.3 158.5 447.6 165.3C448.9 172.1 450.15 177.62 451.6 183.4C453.05 189.18 454.48 194.97 456.3 200C458.12 205.03 460.22 209.57 462.5 213.6C464.78 217.63 466.75 220.72 470 224.2C473.25 227.68 477.58 232.03 482 234.5C486.42 236.97 491.67 237.78 496.5 239C501.33 240.22 504.92 240.88 511 241.8C517.08 242.72 524.83 243.8 533 244.5C541.17 245.2 548.83 245.67 560 246C571.17 246.33 580.5 246.37 600 246.5C619.5 246.63 664.17 246.75 677 246.8" fill="none" stroke="#ff0000" stroke-width="2" stroke-linejoin="round" stroke-linecap="round"/>
<path d="M391.2 246.8C392 246.75 394.58 246.72 396 246.5C397.42 246.28 398.75 246.25 399.7 245.5C400.65 244.75 401.02 243.75 401.7 242C402.38 240.25 403.17 238.1 403.8 235C404.43 231.9 404.92 227.9 405.5 223.4C406.08 218.9 406.68 213.9 407.3 208C407.92 202.1 408.62 194 409.2 188C409.78 182 410.35 176.3 410.8 172C411.25 167.7 411.52 166.73 411.9 162.2C412.28 157.67 412.52 150.02 413.1 144.8C413.68 139.58 414.63 134.77 415.4 130.9C416.17 127.03 416.77 128.3 417.7 121.6C418.63 114.9 420.07 99.73 421 90.7C421.93 81.67 422.43 73.03 423.3 67.4C424.17 61.77 425.42 58.47 426.2 56.9C426.98 55.33 427.32 56.25 428 58C428.68 59.75 429.43 64.28 430.3 67.4C431.17 70.52 432.33 73.2 433.2 76.7C434.07 80.2 434.72 84.12 435.5 88.4C436.28 92.68 437.12 97.33 437.9 102.4C438.68 107.47 439.5 114.2 440.2 118.8C440.9 123.4 441.33 125.63 442.1 130C442.87 134.37 443.72 139.12 444.8 145C445.88 150.88 447.23 158.65 448.6 165.3C449.97 171.95 451.52 179.12 453 184.9C454.48 190.68 455.75 195.22 457.5 200C459.25 204.78 461.42 209.57 463.5 213.6C465.58 217.63 466.93 220.55 470 224.2C473.07 227.85 477.48 232.88 481.9 235.5C486.32 238.12 491.63 238.68 496.5 239.9C501.37 241.12 505.02 241.98 511.1 242.8C517.18 243.62 524.85 244.38 533 244.8C541.15 245.22 547.17 245.22 560 245.3C572.83 245.38 591.83 245.3 610 245.3C628.17 245.3 659.17 245.3 669 245.3" fill="none" stroke="#0cf70c" stroke-width="2" stroke-linejoin="round" stroke-linecap="round"/>
<path d="M391.2 246.8C392.33 246.77 396.3 246.72 398 246.6C399.7 246.48 400.53 246.67 401.4 246.1C402.27 245.53 402.62 245.05 403.2 243.2C403.78 241.35 404.32 238.3 404.9 235C405.48 231.7 406.12 228.4 406.7 223.4C407.28 218.4 407.85 211.4 408.4 205C408.95 198.6 409.48 190.5 410 185C410.52 179.5 410.92 175.5 411.5 172C412.08 168.5 412.75 166.33 413.5 164C414.25 161.67 415.17 161.67 416 158C416.83 154.33 417.8 147.5 418.5 142C419.2 136.5 419.7 130.03 420.2 125C420.7 119.97 420.98 118.28 421.5 111.8C422.02 105.32 422.72 93.12 423.3 86.1C423.88 79.08 424.42 73.02 425 69.7C425.58 66.38 426.22 66 426.8 66.2C427.38 66.4 427.92 68.17 428.5 70.9C429.08 73.63 429.72 78.9 430.3 82.6C430.88 86.3 431.32 89.02 432 93.1C432.68 97.18 433.62 102.43 434.4 107.1C435.18 111.77 435.68 115.18 436.7 121.1C437.72 127.02 439.15 135.78 440.5 142.6C441.85 149.42 443.82 157.43 444.8 162C445.78 166.57 445.62 167 446.4 170C447.18 173 448.43 176.68 449.5 180C450.57 183.32 451.63 186.57 452.8 189.9C453.97 193.23 455.32 196.9 456.5 200C457.68 203.1 458.75 205.92 459.9 208.5C461.05 211.08 462.38 213.33 463.4 215.5C464.42 217.67 465.03 219.55 466 221.5C466.97 223.45 468.03 225.7 469.2 227.2C470.37 228.7 471.63 229.52 473 230.5C474.37 231.48 475.12 232.08 477.4 233.1C479.68 234.12 483.58 235.73 486.7 236.6C489.82 237.47 493.37 238.15 496.1 238.3C498.83 238.45 500.77 237.4 503.1 237.5C505.43 237.6 507.28 238.45 510.1 238.9C512.92 239.35 517.4 240.08 520 240.2C522.6 240.32 523.53 239.9 525.7 239.6C527.87 239.3 530.82 238.72 533 238.4C535.18 238.08 536.37 237.45 538.8 237.7C541.23 237.95 544.07 239.18 547.6 239.9C551.13 240.62 556.43 241.53 560 242C563.57 242.47 564.33 242.27 569 242.7C573.67 243.13 581.67 244.18 588 244.6C594.33 245.02 602.9 244.95 607 245.2C611.1 245.45 600.93 245.83 612.6 246.1C624.27 246.37 666.27 246.68 677 246.8" fill="none" stroke="#0a0aff" stroke-width="2" stroke-linejoin="round" stroke-linecap="round"/>
<path d="M391.2 246.8C392.38 246.77 396.55 246.72 398.3 246.6C400.05 246.48 400.83 246.67 401.7 246.1C402.57 245.53 402.92 245.05 403.5 243.2C404.08 241.35 404.62 238.3 405.2 235C405.78 231.7 406.42 228.4 407 223.4C407.58 218.4 408.17 211.4 408.7 205C409.23 198.6 409.72 190.33 410.2 185C410.68 179.67 411.03 176.5 411.6 173C412.17 169.5 412.87 166.33 413.6 164C414.33 161.67 415.18 162.67 416 159C416.82 155.33 417.83 147.67 418.5 142C419.17 136.33 419.55 130.67 420 125C420.45 119.33 420.73 114.67 421.2 108C421.67 101.33 422.28 91.33 422.8 85C423.32 78.67 423.85 72.93 424.3 70C424.75 67.07 425.05 67.07 425.5 67.4C425.95 67.73 426.4 68.88 427 72C427.6 75.12 428.27 81.43 429.1 86.1C429.93 90.77 431.18 95.18 432 100C432.82 104.82 433.32 110 434 115C434.68 120 435.18 125 436.1 130C437.02 135 438.27 139.5 439.5 145C440.73 150.5 442.42 158.83 443.5 163C444.58 167.17 445.05 167.17 446 170C446.95 172.83 448.12 176.67 449.2 180C450.28 183.33 451.28 186.5 452.5 190C453.72 193.5 455.28 197.67 456.5 201C457.72 204.33 458.75 207.08 459.8 210C460.85 212.92 461.77 216.17 462.8 218.5C463.83 220.83 464.93 222.55 466 224C467.07 225.45 467.87 226.12 469.2 227.2C470.53 228.28 472.45 229.82 474 230.5C475.55 231.18 477.08 231.55 478.5 231.3C479.92 231.05 481.13 229.68 482.5 229C483.87 228.32 484.63 227.1 486.7 227.2C488.77 227.3 492.35 229.37 494.9 229.6C497.45 229.83 499.47 229 502 228.6C504.53 228.2 507.98 226.85 510.1 227.2C512.22 227.55 513.05 229.13 514.7 230.7C516.35 232.27 517.68 234.95 520 236.6C522.32 238.25 525.22 239.57 528.6 240.6C531.98 241.63 535.07 242.2 540.3 242.8C545.53 243.4 550.05 243.7 560 244.2C569.95 244.7 580.5 245.42 600 245.8C619.5 246.18 664.17 246.38 677 246.5" fill="none" stroke="#00f8ff" stroke-width="2" stroke-linejoin="round" stroke-linecap="round"/>
<path d="M391.2 246.8C392.67 246.8 398 246.85 400 246.8C402 246.75 402.38 246.9 403.2 246.5C404.02 246.1 404.37 246.32 404.9 244.4C405.43 242.48 405.9 238.73 406.4 235C406.9 231.27 407.5 226.17 407.9 222C408.3 217.83 408.52 215.13 408.8 210C409.08 204.87 409.22 197.4 409.6 191.2C409.98 185 410.47 177.37 411.1 172.8C411.73 168.23 412.52 166.07 413.4 163.8C414.28 161.53 415.55 162.73 416.4 159.2C417.25 155.67 418.02 147.8 418.5 142.6C418.98 137.4 419.05 133.43 419.3 128C419.55 122.57 419.72 116.67 420 110C420.28 103.33 420.55 94.33 421 88C421.45 81.67 422.22 75.25 422.7 72C423.18 68.75 423.52 68.1 423.9 68.5C424.28 68.9 424.42 70.7 425 74.4C425.58 78.1 426.52 85.1 427.4 90.7C428.28 96.3 429.45 103.45 430.3 108C431.15 112.55 431.3 112.23 432.5 118C433.7 123.77 435.75 134.72 437.5 142.6C439.25 150.48 441.33 159.07 443 165.3C444.67 171.53 446.25 175.9 447.5 180C448.75 184.1 449.5 186.98 450.5 189.9C451.5 192.82 452.52 195.17 453.5 197.5C454.48 199.83 455.4 201.9 456.4 203.9C457.4 205.9 458.43 207.73 459.5 209.5C460.57 211.27 461.92 213.75 462.8 214.5C463.68 215.25 464.12 214.38 464.8 214C465.48 213.62 466.2 212.95 466.9 212.2C467.6 211.45 468.32 210.2 469 209.5C469.68 208.8 470.33 208 471 208C471.67 208 472.33 208.83 473 209.5C473.67 210.17 473.88 210.8 475 212C476.12 213.2 478.07 215.22 479.7 216.7C481.33 218.18 482.85 219.6 484.8 220.9C486.75 222.2 489.2 222.68 491.4 224.5C493.6 226.32 495.93 229.85 498 231.8C500.07 233.75 501.62 234.98 503.8 236.2C505.98 237.42 507.45 238.13 511.1 239.1C514.75 240.07 520.83 241.2 525.7 242C530.57 242.8 534.58 243.4 540.3 243.9C546.02 244.4 550.05 244.65 560 245C569.95 245.35 580.5 245.75 600 246C619.5 246.25 664.17 246.42 677 246.5" fill="none" stroke="#ff00ff" stroke-width="2" stroke-linejoin="round" stroke-linecap="round"/>
<line x1="607.3" y1="24.7" x2="635.8" y2="24.7" stroke="#ff0000" stroke-width="2"/>
<text x="637.8" y="29.1" font-size="10.2" letter-spacing="-0.25">LiSiSe<tspan font-size="8.7" dx="0.5" dy="3">3</tspan></text>
<line x1="607.3" y1="42.75" x2="635.8" y2="42.75" stroke="#0cf70c" stroke-width="2"/>
<text x="640.6" y="47.15" font-size="10.2" letter-spacing="-0.25">NaSiSe<tspan font-size="8.7" dx="0.5" dy="3">3</tspan></text>
<line x1="607.3" y1="60.8" x2="635.8" y2="60.8" stroke="#0a0aff" stroke-width="2"/>
<text x="637.8" y="65.2" font-size="10.2" letter-spacing="-0.25">KSiSe<tspan font-size="8.7" dx="0.5" dy="3">3</tspan></text>
<line x1="607.3" y1="78.85" x2="635.8" y2="78.85" stroke="#00f8ff" stroke-width="2"/>
<text x="637.8" y="83.25" font-size="10.2" letter-spacing="-0.25">RbSiSe<tspan font-size="8.7" dx="0.5" dy="3">3</tspan></text>
<line x1="607.3" y1="96.9" x2="635.8" y2="96.9" stroke="#ff00ff" stroke-width="2"/>
<text x="637.8" y="101.3" font-size="10.2" letter-spacing="-0.25">CsSiSe<tspan font-size="8.7" dx="0.5" dy="3">3</tspan></text>
<text x="391" y="260.9" font-size="11.5" text-anchor="middle">0</text>
<text x="419.62" y="260.9" font-size="11.5" text-anchor="middle">5</text>
<text x="448.24" y="260.9" font-size="11.5" text-anchor="middle">10</text>
<text x="476.86" y="260.9" font-size="11.5" text-anchor="middle">15</text>
<text x="505.48" y="260.9" font-size="11.5" text-anchor="middle">20</text>
<text x="534.1" y="260.9" font-size="11.5" text-anchor="middle">25</text>
<text x="562.72" y="260.9" font-size="11.5" text-anchor="middle">30</text>
<text x="591.34" y="260.9" font-size="11.5" text-anchor="middle">35</text>
<text x="619.96" y="260.9" font-size="11.5" text-anchor="middle">40</text>
<text x="648.58" y="260.9" font-size="11.5" text-anchor="middle">45</text>
<text x="677.2" y="260.9" font-size="11.5" text-anchor="middle">50</text>
<text x="385.6" y="250.7" font-size="11" text-anchor="end">0</text>
<text x="385.6" y="227.6" font-size="11" text-anchor="end">1</text>
<text x="385.6" y="204.5" font-size="11" text-anchor="end">2</text>
<text x="385.6" y="181.4" font-size="11" text-anchor="end">3</text>
<text x="385.6" y="158.3" font-size="11" text-anchor="end">4</text>
<text x="385.6" y="135.2" font-size="11" text-anchor="end">5</text>
<text x="385.6" y="112.1" font-size="11" text-anchor="end">6</text>
<text x="385.6" y="89" font-size="11" text-anchor="end">7</text>
<text x="385.6" y="65.9" font-size="11" text-anchor="end">8</text>
<text x="385.6" y="42.8" font-size="11" text-anchor="end">9</text>
<text x="385.6" y="19.7" font-size="11" text-anchor="end">10</text>
<text x="534" y="281.6" font-size="15.3" text-anchor="middle">Energy (eV)</text>
<text transform="translate(367.7 130.7) rotate(-90)" font-size="18.5"><tspan font-size="19.5">&#949;</tspan><tspan font-size="9" dy="3.2">2</tspan><tspan dy="-3.2"> (&#969;)</tspan></text>
<text x="390.7" y="11.8" font-size="14">(d)</text>
</g>
<g>
<rect x="602.2" y="305" width="73.6" height="91.2" fill="#fff"/>
<path d="M602.2 305V396.2" stroke="#c4c4c4" stroke-width="1" fill="none"/>
<path d="M602.2 305H675.8V396.2H602.2" stroke="#9c9c9c" stroke-width="1" fill="none"/>
<path d="M391.1 535.3V531.1M405.42 535.3V533.1M419.73 535.3V531.1M434.05 535.3V533.1M448.36 535.3V531.1M462.68 535.3V533.1M476.99 535.3V531.1M491.31 535.3V533.1M505.62 535.3V531.1M519.93 535.3V533.1M534.25 535.3V531.1M548.57 535.3V533.1M562.88 535.3V531.1M577.19 535.3V533.1M591.51 535.3V531.1M605.83 535.3V533.1M620.14 535.3V531.1M634.45 535.3V533.1M648.77 535.3V531.1M663.09 535.3V533.1M677.4 535.3V531.1M391.1 535.3H395.3M391.1 523.73H393.3M391.1 512.17H395.3M391.1 500.6H393.3M391.1 489.04H395.3M391.1 477.47H393.3M391.1 465.91H395.3M391.1 454.34H393.3M391.1 442.78H395.3M391.1 431.21H393.3M391.1 419.65H395.3M391.1 408.08H393.3M391.1 396.52H395.3M391.1 384.95H393.3M391.1 373.39H395.3M391.1 361.82H393.3M391.1 350.26H395.3M391.1 338.69H393.3M391.1 327.13H395.3M391.1 315.56H393.3M391.1 304H395.3" stroke="#000" stroke-width="1.6" fill="none"/>
<rect x="391.1" y="304" width="286.3" height="231.3" fill="none" stroke="#000" stroke-width="2"/>
<path d="M391.3 534.4C391.63 534.07 392.68 533.52 393.3 532.4C393.92 531.28 394.52 529.75 395 527.7C395.48 525.65 395.82 522.82 396.2 520.1C396.58 517.38 396.92 514.62 397.3 511.4C397.68 508.18 398.15 504.03 398.5 500.8C398.85 497.57 398.98 498.03 399.4 492C399.82 485.97 400.35 474 401 464.6C401.65 455.2 402.53 443.72 403.3 435.6C404.07 427.48 404.83 420.93 405.6 415.9C406.37 410.87 407.13 407.8 407.9 405.4C408.67 403 409.28 405.28 410.2 401.5C411.12 397.72 412.48 388.35 413.4 382.7C414.32 377.05 414.93 370.8 415.7 367.6C416.47 364.4 417.12 364.77 418 363.5C418.88 362.23 420.02 361.37 421 360C421.98 358.63 422.83 356.38 423.9 355.3C424.97 354.22 426.33 352.82 427.4 353.5C428.47 354.18 429.33 356.08 430.3 359.4C431.27 362.72 432.33 368.35 433.2 373.4C434.07 378.45 434.82 384.25 435.5 389.7C436.18 395.15 436.8 401.88 437.3 406.1C437.8 410.32 437.98 411.02 438.5 415C439.02 418.98 439.2 424.32 440.4 430C441.6 435.68 443.95 442.72 445.7 449.1C447.45 455.48 449.35 462.98 450.9 468.3C452.45 473.62 453.55 476.38 455 481C456.45 485.62 458.2 492.22 459.6 496C461 499.78 462.15 501.4 463.4 503.7C464.65 506 465.87 507.87 467.1 509.8C468.33 511.73 469.57 513.68 470.8 515.3C472.03 516.92 473.1 518.38 474.5 519.5C475.9 520.62 477.5 521.15 479.2 522C480.9 522.85 483.03 523.85 484.7 524.6C486.37 525.35 486.02 525.68 489.2 526.5C492.38 527.32 497.72 528.5 503.8 529.5C509.88 530.5 516.33 531.7 525.7 532.5C535.07 533.3 534.75 533.88 560 534.3C585.25 534.72 657.67 534.88 677.2 535" fill="none" stroke="#ff0000" stroke-width="2" stroke-linejoin="round" stroke-linecap="round"/>
<path d="M391.3 535C391.72 534.9 392.98 534.83 393.8 534.4C394.62 533.97 395.47 533.8 396.2 532.4C396.93 531 397.62 528.73 398.2 526C398.78 523.27 399.27 519.42 399.7 516C400.13 512.58 400.4 509 400.8 505.5C401.2 502 401.6 501.82 402.1 495C402.6 488.18 403.22 474.5 403.8 464.6C404.38 454.7 405.12 444.3 405.6 435.6C406.08 426.9 406.37 418.33 406.7 412.4C407.03 406.47 407.27 403.87 407.6 400C407.93 396.13 408.13 390.13 408.7 389.2C409.27 388.27 410.32 392.75 411 394.4C411.68 396.05 412.12 400.65 412.8 399.1C413.48 397.55 414.23 391.33 415.1 385.1C415.97 378.87 417.12 369.38 418 361.7C418.88 354.02 419.62 344.85 420.4 339C421.18 333.15 422.02 327.93 422.7 326.6C423.38 325.27 423.92 328.07 424.5 331C425.08 333.93 425.53 338.68 426.2 344.2C426.87 349.72 427.72 357.28 428.5 364.1C429.28 370.92 430.12 378.1 430.9 385.1C431.68 392.1 432.48 400.62 433.2 406.1C433.92 411.58 434.28 413.43 435.2 418C436.12 422.57 437.53 429.18 438.7 433.5C439.87 437.82 440.75 439.55 442.2 443.9C443.65 448.25 445.77 454.58 447.4 459.6C449.03 464.62 450.65 469.6 452 474C453.35 478.4 454.23 482.17 455.5 486C456.77 489.83 458.28 494.02 459.6 497C460.92 499.98 462.15 501.73 463.4 503.9C464.65 506.07 465.87 508.07 467.1 510C468.33 511.93 469.57 513.88 470.8 515.5C472.03 517.12 473.1 518.58 474.5 519.7C475.9 520.82 477.5 521.35 479.2 522.2C480.9 523.05 483.03 523.88 484.7 524.8C486.37 525.72 486.02 526.73 489.2 527.7C492.38 528.67 497.72 529.63 503.8 530.6C509.88 531.57 516.33 532.77 525.7 533.5C535.07 534.23 534.75 534.75 560 535C585.25 535.25 657.67 535 677.2 535" fill="none" stroke="#0cf70c" stroke-width="2" stroke-linejoin="round" stroke-linecap="round"/>
<path d="M391.3 535C392.17 534.93 395.22 534.93 396.5 534.6C397.78 534.27 398.25 534.1 399 533C399.75 531.9 400.33 530.5 401 528C401.67 525.5 402.42 521.83 403 518C403.58 514.17 404.03 509.67 404.5 505C404.97 500.33 405.33 496.37 405.8 490C406.27 483.63 406.85 474.9 407.3 466.8C407.75 458.7 408.12 449.5 408.5 441.4C408.88 433.3 409.27 423.77 409.6 418.2C409.93 412.63 410.17 410.1 410.5 408C410.83 405.9 411.22 405.85 411.6 405.6C411.98 405.35 412.17 405.08 412.8 406.5C413.43 407.92 414.73 413.35 415.4 414.1C416.07 414.85 416.32 412.07 416.8 411C417.28 409.93 417.75 408.53 418.3 407.7C418.85 406.87 419.48 405.95 420.1 406C420.72 406.05 421.35 407.08 422 408C422.65 408.92 423.25 410.58 424 411.5C424.75 412.42 425.07 415.35 426.5 413.5C427.93 411.65 431.15 401.7 432.6 400.4C434.05 399.1 434.33 401.63 435.2 405.7C436.07 409.77 436.63 418.72 437.8 424.8C438.97 430.88 440.6 435.83 442.2 442.2C443.8 448.57 445.38 456.12 447.4 463C449.42 469.88 452.27 477.83 454.3 483.5C456.33 489.17 458.08 493.63 459.6 497C461.12 500.37 462.15 501.53 463.4 503.7C464.65 505.87 465.87 508.03 467.1 510C468.33 511.97 469.55 513.9 470.8 515.5C472.05 517.1 472.27 518.07 474.6 519.6C476.93 521.13 481.15 523.47 484.8 524.7C488.45 525.93 492.12 526.43 496.5 527C500.88 527.57 506.23 527.92 511.1 528.1C515.97 528.28 522.05 528.42 525.7 528.1C529.35 527.78 530.68 526.58 533 526.2C535.32 525.82 537.17 525.43 539.6 525.8C542.03 526.17 544.2 527.53 547.6 528.4C551 529.27 556.43 530.45 560 531C563.57 531.55 564.33 531.32 569 531.7C573.67 532.08 581.67 532.92 588 533.3C594.33 533.68 601.33 533.78 607 534C612.67 534.22 610.3 534.43 622 534.6C633.7 534.77 668 534.93 677.2 535" fill="none" stroke="#0a0aff" stroke-width="2" stroke-linejoin="round" stroke-linecap="round"/>
<path d="M391.3 535C391.92 535 393.9 535.05 395 535C396.1 534.95 397.02 535.13 397.9 534.7C398.78 534.27 399.52 533.85 400.3 532.4C401.08 530.95 401.92 529.02 402.6 526C403.28 522.98 403.92 518.2 404.4 514.3C404.88 510.4 405.15 506.65 405.5 502.6C405.85 498.55 406.1 495.57 406.5 490C406.9 484.43 407.08 477.3 407.9 469.2C408.72 461.1 410.23 448.93 411.4 441.4C412.57 433.87 414.03 429.8 414.9 424C415.77 418.2 416.12 411.43 416.6 406.6C417.08 401.77 417.37 399.43 417.8 395C418.23 390.57 418.75 384.33 419.2 380C419.65 375.67 420.07 371.83 420.5 369C420.93 366.17 421.33 364.28 421.8 363C422.27 361.72 422.77 359.95 423.3 361.3C423.83 362.65 424.32 366.37 425 371.1C425.68 375.83 426.57 383.65 427.4 389.7C428.23 395.75 428.7 400.68 430 407.4C431.3 414.12 433.47 423.33 435.2 430C436.93 436.67 438.65 441.6 440.4 447.4C442.15 453.2 443.38 458.13 445.7 464.8C448.02 471.47 451.92 481.42 454.3 487.4C456.68 493.38 457.83 496.55 460 500.7C462.17 504.85 464.38 509.15 467.3 512.3C470.22 515.45 474.33 518.87 477.5 519.6C480.67 520.33 483.13 517.13 486.3 516.7C489.47 516.27 492.85 517.12 496.5 517C500.15 516.88 505.03 515.43 508.2 516C511.37 516.57 513.32 518.82 515.5 520.4C517.68 521.98 519.12 524.17 521.3 525.5C523.48 526.83 525.43 527.55 528.6 528.4C531.77 529.25 535.07 529.87 540.3 530.6C545.53 531.33 550.05 532.23 560 532.8C569.95 533.37 580.47 533.72 600 534C619.53 534.28 664.33 534.42 677.2 534.5" fill="none" stroke="#00f8ff" stroke-width="2" stroke-linejoin="round" stroke-linecap="round"/>
<path d="M391.3 535C391.67 535 392.78 535.05 393.5 535C394.22 534.95 394.82 535.03 395.6 534.7C396.38 534.37 397.42 534.17 398.2 533C398.98 531.83 399.67 530.13 400.3 527.7C400.93 525.27 401.47 521.9 402 518.4C402.53 514.9 403.1 510.6 403.5 506.7C403.9 502.8 404.07 499.12 404.4 495C404.73 490.88 405.02 486.1 405.5 482C405.98 477.9 406.52 473.68 407.3 470.4C408.08 467.12 409.13 464.82 410.2 462.3C411.27 459.78 412.83 458.78 413.7 455.3C414.57 451.82 414.92 447.58 415.4 441.4C415.88 435.22 416.12 425.93 416.6 418.2C417.08 410.47 417.77 400.87 418.3 395C418.83 389.13 419.27 388.55 419.8 383C420.33 377.45 420.82 366.85 421.5 361.7C422.18 356.55 423.12 352.48 423.9 352.1C424.68 351.72 425.52 355.85 426.2 359.4C426.88 362.95 427.32 367.57 428 373.4C428.68 379.23 429.38 386.42 430.3 394.4C431.22 402.38 432.25 413.92 433.5 421.3C434.75 428.68 436.35 433.2 437.8 438.7C439.25 444.2 440.32 447.35 442.2 454.3C444.08 461.25 446.78 473.73 449.1 480.4C451.42 487.07 454.28 491.05 456.1 494.3C457.92 497.55 458.13 498.35 460 499.9C461.87 501.45 465.12 502.62 467.3 503.6C469.48 504.58 471.15 505.93 473.1 505.8C475.05 505.67 477.17 503.78 479 502.8C480.83 501.82 482.65 499.9 484.1 499.9C485.55 499.9 486.37 500.73 487.7 502.8C489.03 504.87 490.63 509.25 492.1 512.3C493.57 515.35 494.8 518.9 496.5 521.1C498.2 523.3 499.87 524.28 502.3 525.5C504.73 526.72 507.2 527.43 511.1 528.4C515 529.37 520.83 530.57 525.7 531.3C530.57 532.03 534.58 532.35 540.3 532.8C546.02 533.25 537.18 533.67 560 534C582.82 534.33 657.67 534.67 677.2 534.8" fill="none" stroke="#ff00ff" stroke-width="2" stroke-linejoin="round" stroke-linecap="round"/>
<line x1="602.8" y1="313.6" x2="630.9" y2="313.6" stroke="#ff0000" stroke-width="2"/>
<text x="633" y="318" font-size="10.2" letter-spacing="-0.25">LiGeSe<tspan font-size="8.7" dx="0.5" dy="3">3</tspan></text>
<line x1="602.8" y1="331.65" x2="630.9" y2="331.65" stroke="#0cf70c" stroke-width="2"/>
<text x="635.8" y="336.05" font-size="10.2" letter-spacing="-0.25">NaGeSe<tspan font-size="8.7" dx="0.5" dy="3">3</tspan></text>
<line x1="602.8" y1="349.7" x2="630.9" y2="349.7" stroke="#0a0aff" stroke-width="2"/>
<text x="633" y="354.1" font-size="10.2" letter-spacing="-0.25">KGeSe<tspan font-size="8.7" dx="0.5" dy="3">3</tspan></text>
<line x1="602.8" y1="367.75" x2="630.9" y2="367.75" stroke="#00f8ff" stroke-width="2"/>
<text x="633" y="372.15" font-size="10.2" letter-spacing="-0.25">RbGeSe<tspan font-size="8.7" dx="0.5" dy="3">3</tspan></text>
<line x1="602.8" y1="385.8" x2="630.9" y2="385.8" stroke="#ff00ff" stroke-width="2"/>
<text x="633" y="390.2" font-size="10.2" letter-spacing="-0.25">CsGeSe<tspan font-size="8.7" dx="0.5" dy="3">3</tspan></text>
<text x="391.1" y="549.2" font-size="11.5" text-anchor="middle">0</text>
<text x="419.73" y="549.2" font-size="11.5" text-anchor="middle">5</text>
<text x="448.36" y="549.2" font-size="11.5" text-anchor="middle">10</text>
<text x="476.99" y="549.2" font-size="11.5" text-anchor="middle">15</text>
<text x="505.62" y="549.2" font-size="11.5" text-anchor="middle">20</text>
<text x="534.25" y="549.2" font-size="11.5" text-anchor="middle">25</text>
<text x="562.88" y="549.2" font-size="11.5" text-anchor="middle">30</text>
<text x="591.51" y="549.2" font-size="11.5" text-anchor="middle">35</text>
<text x="620.14" y="549.2" font-size="11.5" text-anchor="middle">40</text>
<text x="648.77" y="549.2" font-size="11.5" text-anchor="middle">45</text>
<text x="677.4" y="549.2" font-size="11.5" text-anchor="middle">50</text>
<text x="385.7" y="539" font-size="11" text-anchor="end">0</text>
<text x="385.7" y="515.87" font-size="11" text-anchor="end">1</text>
<text x="385.7" y="492.74" font-size="11" text-anchor="end">2</text>
<text x="385.7" y="469.61" font-size="11" text-anchor="end">3</text>
<text x="385.7" y="446.48" font-size="11" text-anchor="end">4</text>
<text x="385.7" y="423.35" font-size="11" text-anchor="end">5</text>
<text x="385.7" y="400.22" font-size="11" text-anchor="end">6</text>
<text x="385.7" y="377.09" font-size="11" text-anchor="end">7</text>
<text x="385.7" y="353.96" font-size="11" text-anchor="end">8</text>
<text x="385.7" y="330.83" font-size="11" text-anchor="end">9</text>
<text x="385.7" y="307.7" font-size="11" text-anchor="end">10</text>
<text x="534.4" y="568.4" font-size="15.3" text-anchor="middle">Energy (eV)</text>
<text transform="translate(370.4 417.2) rotate(-90)" font-size="18.5"><tspan font-size="19.5">&#949;</tspan><tspan font-size="9" dy="3.2">2</tspan><tspan dy="-3.2"> (&#969;)</tspan></text>
<text x="391.2" y="300.2" font-size="14">(e)</text>
</g>
<g>
<rect x="605.3" y="590" width="71.3" height="91.5" fill="#fff"/>
<path d="M605.3 590V681.5" stroke="#c4c4c4" stroke-width="1" fill="none"/>
<path d="M605.3 590H676.6V681.5H605.3" stroke="#9c9c9c" stroke-width="1" fill="none"/>
<path d="M392 820.1V815.9M406.31 820.1V817.9M420.62 820.1V815.9M434.93 820.1V817.9M449.24 820.1V815.9M463.55 820.1V817.9M477.86 820.1V815.9M492.17 820.1V817.9M506.48 820.1V815.9M520.79 820.1V817.9M535.1 820.1V815.9M549.41 820.1V817.9M563.72 820.1V815.9M578.03 820.1V817.9M592.34 820.1V815.9M606.65 820.1V817.9M620.96 820.1V815.9M635.27 820.1V817.9M649.58 820.1V815.9M663.89 820.1V817.9M678.2 820.1V815.9M392 820.1H396.2M392 808.55H394.2M392 796.99H396.2M392 785.44H394.2M392 773.88H396.2M392 762.33H394.2M392 750.77H396.2M392 739.22H394.2M392 727.66H396.2M392 716.11H394.2M392 704.55H396.2M392 693H394.2M392 681.44H396.2M392 669.88H394.2M392 658.33H396.2M392 646.77H394.2M392 635.22H396.2M392 623.66H394.2M392 612.11H396.2M392 600.56H394.2M392 589H396.2" stroke="#000" stroke-width="1.6" fill="none"/>
<rect x="392" y="589" width="286.2" height="231.1" fill="none" stroke="#000" stroke-width="2"/>
<path d="M392.2 819.8C392.67 819.77 394.05 819.88 395 819.6C395.95 819.32 397.02 819.7 397.9 818.1C398.78 816.5 399.67 813.02 400.3 810C400.93 806.98 401.1 804.58 401.7 800C402.3 795.42 403.18 788.33 403.9 782.5C404.62 776.67 405.28 771.25 406 765C406.72 758.75 407.47 751.67 408.2 745C408.93 738.33 409.62 731.82 410.4 725C411.18 718.18 412.07 710.7 412.9 704.1C413.73 697.5 414.48 690.85 415.4 685.4C416.32 679.95 417.38 675.88 418.4 671.4C419.42 666.92 420.48 664.15 421.5 658.5C422.52 652.85 423.52 642.55 424.5 637.5C425.48 632.45 426.53 629.17 427.4 628.2C428.27 627.23 428.93 629.17 429.7 631.7C430.47 634.23 431.22 638.53 432 643.4C432.78 648.27 433.62 655.07 434.4 660.9C435.18 666.73 435.93 673.15 436.7 678.4C437.47 683.65 438.22 687.53 439 692.4C439.78 697.27 440.68 703 441.4 707.6C442.12 712.2 442.62 715.43 443.3 720C443.98 724.57 444.47 730.33 445.5 735C446.53 739.67 447.92 743.5 449.5 748C451.08 752.5 453.25 757.5 455 762C456.75 766.5 458.33 770.67 460 775C461.67 779.33 463.33 784.17 465 788C466.67 791.83 467.92 795.25 470 798C472.08 800.75 474.3 802.42 477.5 804.5C480.7 806.58 484.82 808.75 489.2 810.5C493.58 812.25 497.72 813.75 503.8 815C509.88 816.25 516.33 817.28 525.7 818C535.07 818.72 534.62 818.98 560 819.3C585.38 819.62 658.33 819.8 678 819.9" fill="none" stroke="#ff0000" stroke-width="2" stroke-linejoin="round" stroke-linecap="round"/>
<path d="M392.2 819.8C392.83 819.77 394.75 819.83 396 819.6C397.25 819.37 398.7 819.52 399.7 818.4C400.7 817.28 401.33 815.97 402 812.9C402.67 809.83 403.07 805.07 403.7 800C404.33 794.93 405.13 788.33 405.8 782.5C406.47 776.67 407 771.25 407.7 765C408.4 758.75 409.23 751.67 410 745C410.77 738.33 411.55 732 412.3 725C413.05 718 413.73 709.98 414.5 703C415.27 696.02 416.02 687.98 416.9 683.1C417.78 678.22 418.83 676.05 419.8 673.7C420.77 671.35 421.83 671.33 422.7 669C423.57 666.67 424.03 663 425 659.7C425.97 656.4 427.42 651.63 428.5 649.2C429.58 646.77 430.62 645.1 431.5 645.1C432.38 645.1 433.03 645.6 433.8 649.2C434.57 652.8 435.32 660.67 436.1 666.7C436.88 672.73 437.72 679.17 438.5 685.4C439.28 691.63 439.97 698.33 440.8 704.1C441.63 709.87 442.2 714.25 443.5 720C444.8 725.75 446.83 732.42 448.6 738.6C450.37 744.78 452.25 751.22 454.1 757.1C455.95 762.98 457.98 768.78 459.7 773.9C461.42 779.02 462.68 783.95 464.4 787.8C466.12 791.65 467.82 794.13 470 797C472.18 799.87 474.3 802.58 477.5 805C480.7 807.42 484.82 809.62 489.2 811.5C493.58 813.38 497.72 815.05 503.8 816.3C509.88 817.55 516.33 818.42 525.7 819C535.07 819.58 534.62 819.65 560 819.8C585.38 819.95 658.33 819.88 678 819.9" fill="none" stroke="#0cf70c" stroke-width="2" stroke-linejoin="round" stroke-linecap="round"/>
<path d="M392.2 819.8C393.17 819.78 396.37 819.88 398 819.7C399.63 819.52 400.93 819.83 402 818.7C403.07 817.57 403.57 816.02 404.4 812.9C405.23 809.78 406.23 805.07 407 800C407.77 794.93 408.35 788.33 409 782.5C409.65 776.67 410.18 771.25 410.9 765C411.62 758.75 412.48 751.58 413.3 745C414.12 738.42 415.1 729.5 415.8 725.5C416.5 721.5 416.83 722.42 417.5 721C418.17 719.58 419.12 718.33 419.8 717C420.48 715.67 421.1 715 421.6 713C422.1 711 422.32 708.82 422.8 705C423.28 701.18 423.83 694.92 424.5 690.1C425.17 685.28 426.13 678.93 426.8 676.1C427.47 673.27 427.72 673.2 428.5 673.1C429.28 673 430.52 674.42 431.5 675.5C432.48 676.58 433.53 677.57 434.4 679.6C435.27 681.63 435.93 684.4 436.7 687.7C437.47 691 438.25 694.35 439 699.4C439.75 704.45 440.45 712.4 441.2 718C441.95 723.6 442.45 728 443.5 733C444.55 738 446 743.33 447.5 748C449 752.67 450.75 756.33 452.5 761C454.25 765.67 456.42 771.83 458 776C459.58 780.17 460.45 782.2 462 786C463.55 789.8 464.72 795.45 467.3 798.8C469.88 802.15 473.85 804.15 477.5 806.1C481.15 808.05 484.82 809.52 489.2 810.5C493.58 811.48 498.93 811.57 503.8 812C508.67 812.43 513.53 813.17 518.4 813.1C523.27 813.03 529.1 811.75 533 811.6C536.9 811.45 538.97 811.82 541.8 812.2C544.63 812.58 546.97 813.45 550 813.9C553.03 814.35 556.83 814.43 560 814.9C563.17 815.37 564.33 816.13 569 816.7C573.67 817.27 581.67 817.97 588 818.3C594.33 818.63 600.68 818.45 607 818.7C613.32 818.95 614.07 819.6 625.9 819.8C637.73 820 669.32 819.88 678 819.9" fill="none" stroke="#0a0aff" stroke-width="2" stroke-linejoin="round" stroke-linecap="round"/>
<path d="M392.2 819.8C393.33 819.78 397.2 819.87 399 819.7C400.8 819.53 401.95 819.93 403 818.8C404.05 817.67 404.5 816.03 405.3 812.9C406.1 809.77 407.05 805.07 407.8 800C408.55 794.93 409.15 788.33 409.8 782.5C410.45 776.67 411 771.25 411.7 765C412.4 758.75 413.2 751.67 414 745C414.8 738.33 415.75 729.83 416.5 725C417.25 720.17 417.92 719.33 418.5 716C419.08 712.67 419.45 709.33 420 705C420.55 700.67 421.2 695.5 421.8 690C422.4 684.5 422.97 676.67 423.6 672C424.23 667.33 424.87 662.5 425.6 662C426.33 661.5 426.93 665.88 428 669C429.07 672.12 430.55 675.63 432 680.7C433.45 685.77 435.4 692.85 436.7 699.4C438 705.95 438.87 713.9 439.8 720C440.73 726.1 441.18 731 442.3 736C443.42 741 445.05 745.67 446.5 750C447.95 754.33 449.42 757.83 451 762C452.58 766.17 454.5 771 456 775C457.5 779 458.12 782.03 460 786C461.88 789.97 464.38 795.57 467.3 798.8C470.22 802.03 474.33 804.8 477.5 805.4C480.67 806 483.13 802.9 486.3 802.4C489.47 801.9 492.85 802.52 496.5 802.4C500.15 802.28 505.03 800.97 508.2 801.7C511.37 802.43 513.07 805.22 515.5 806.8C517.93 808.38 519.88 809.98 522.8 811.2C525.72 812.42 526.8 812.95 533 814.1C539.2 815.25 548.83 817.2 560 818.1C571.17 819 580.33 819.2 600 819.5C619.67 819.8 665 819.83 678 819.9" fill="none" stroke="#00f8ff" stroke-width="2" stroke-linejoin="round" stroke-linecap="round"/>
<path d="M392.2 819.8C393.5 819.83 397.88 820.1 400 820C402.12 819.9 403.68 820.38 404.9 819.2C406.12 818.02 406.57 816.1 407.3 812.9C408.03 809.7 408.65 805.07 409.3 800C409.95 794.93 410.58 788.33 411.2 782.5C411.82 776.67 412.28 771.25 413 765C413.72 758.75 414.65 751.67 415.5 745C416.35 738.33 417.42 730.67 418.1 725C418.78 719.33 419.18 715.6 419.6 711C420.02 706.4 420.08 703.8 420.6 697.4C421.12 691 421.97 678.98 422.7 672.6C423.43 666.22 424.32 661.05 425 659.1C425.68 657.15 426.12 658.65 426.8 660.9C427.48 663.15 428.23 668.52 429.1 672.6C429.97 676.68 431.02 680.93 432 685.4C432.98 689.87 433.93 693.63 435 699.4C436.07 705.17 437.38 713.78 438.4 720C439.42 726.22 439.87 731.6 441.1 736.7C442.33 741.8 444.25 746.42 445.8 750.6C447.35 754.78 448.85 757.92 450.4 761.8C451.95 765.68 453.55 770.18 455.1 773.9C456.65 777.62 458.32 781.48 459.7 784.1C461.08 786.72 461.85 789.13 463.4 789.6C464.95 790.07 467.45 787.52 469 786.9C470.55 786.28 471.15 785.28 472.7 785.9C474.25 786.52 476.43 789.58 478.3 790.6C480.17 791.62 482.05 791.15 483.9 792C485.75 792.85 487.88 794.45 489.4 795.7C490.92 796.95 491.57 797.77 493 799.5C494.43 801.23 496.2 804.15 498 806.1C499.8 808.05 500.4 809.73 503.8 811.2C507.2 812.67 513.53 813.93 518.4 814.9C523.27 815.87 526.07 816.32 533 817C539.93 817.68 535.83 818.52 560 819C584.17 819.48 658.33 819.75 678 819.9" fill="none" stroke="#ff00ff" stroke-width="2" stroke-linejoin="round" stroke-linecap="round"/>
<line x1="606" y1="599.2" x2="634.1" y2="599.2" stroke="#ff0000" stroke-width="2"/>
<text x="635.8" y="603.6" font-size="10.2" letter-spacing="-0.25">LiSnSe<tspan font-size="8.7" dx="0.5" dy="3">3</tspan></text>
<line x1="606" y1="617.25" x2="634.1" y2="617.25" stroke="#0cf70c" stroke-width="2"/>
<text x="638.6" y="621.65" font-size="10.2" letter-spacing="-0.25">NaSnSe<tspan font-size="8.7" dx="0.5" dy="3">3</tspan></text>
<line x1="606" y1="635.3" x2="634.1" y2="635.3" stroke="#0a0aff" stroke-width="2"/>
<text x="635.8" y="639.7" font-size="10.2" letter-spacing="-0.25">KSnSe<tspan font-size="8.7" dx="0.5" dy="3">3</tspan></text>
<line x1="606" y1="653.35" x2="634.1" y2="653.35" stroke="#00f8ff" stroke-width="2"/>
<text x="635.8" y="657.75" font-size="10.2" letter-spacing="-0.25">RbSnSe<tspan font-size="8.7" dx="0.5" dy="3">3</tspan></text>
<line x1="606" y1="671.4" x2="634.1" y2="671.4" stroke="#ff00ff" stroke-width="2"/>
<text x="635.8" y="675.8" font-size="10.2" letter-spacing="-0.25">CsSnSe<tspan font-size="8.7" dx="0.5" dy="3">3</tspan></text>
<text x="392" y="834" font-size="11.5" text-anchor="middle">0</text>
<text x="420.62" y="834" font-size="11.5" text-anchor="middle">5</text>
<text x="449.24" y="834" font-size="11.5" text-anchor="middle">10</text>
<text x="477.86" y="834" font-size="11.5" text-anchor="middle">15</text>
<text x="506.48" y="834" font-size="11.5" text-anchor="middle">20</text>
<text x="535.1" y="834" font-size="11.5" text-anchor="middle">25</text>
<text x="563.72" y="834" font-size="11.5" text-anchor="middle">30</text>
<text x="592.34" y="834" font-size="11.5" text-anchor="middle">35</text>
<text x="620.96" y="834" font-size="11.5" text-anchor="middle">40</text>
<text x="649.58" y="834" font-size="11.5" text-anchor="middle">45</text>
<text x="678.2" y="834" font-size="11.5" text-anchor="middle">50</text>
<text x="386.6" y="823.8" font-size="11" text-anchor="end">0</text>
<text x="386.6" y="800.69" font-size="11" text-anchor="end">1</text>
<text x="386.6" y="777.58" font-size="11" text-anchor="end">2</text>
<text x="386.6" y="754.47" font-size="11" text-anchor="end">3</text>
<text x="386.6" y="731.36" font-size="11" text-anchor="end">4</text>
<text x="386.6" y="708.25" font-size="11" text-anchor="end">5</text>
<text x="386.6" y="685.14" font-size="11" text-anchor="end">6</text>
<text x="386.6" y="662.03" font-size="11" text-anchor="end">7</text>
<text x="386.6" y="638.92" font-size="11" text-anchor="end">8</text>
<text x="386.6" y="615.81" font-size="11" text-anchor="end">9</text>
<text x="386.6" y="592.7" font-size="11" text-anchor="end">10</text>
<text x="535" y="856.7" font-size="15.3" text-anchor="middle">Energy (eV)</text>
<text transform="translate(368.6 700.7) rotate(-90)" font-size="18.5"><tspan font-size="19.5">&#949;</tspan><tspan font-size="9" dy="3.2">2</tspan><tspan dy="-3.2"> (&#969;)</tspan></text>
<text x="391.9" y="585.6" font-size="14">(f)</text>
</g>
</svg></body></html>
